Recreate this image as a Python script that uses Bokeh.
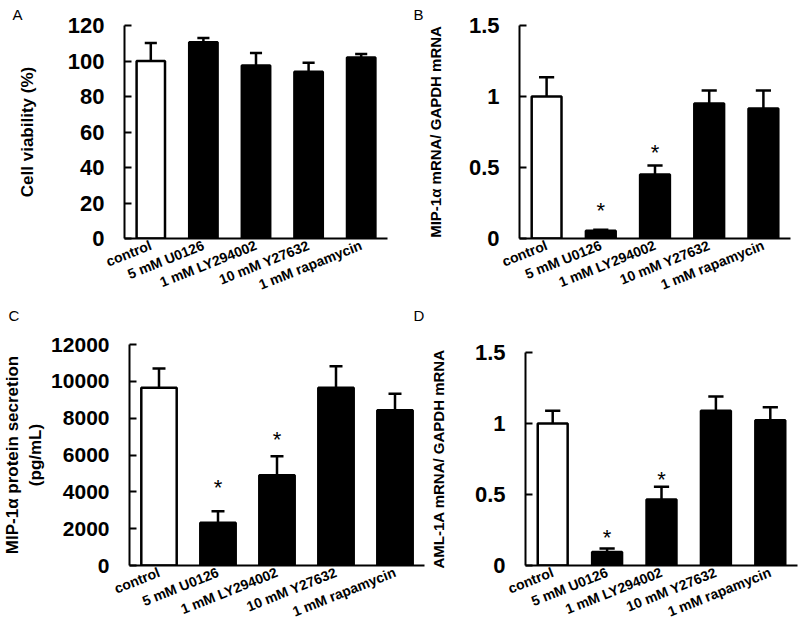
from bokeh.plotting import figure
from bokeh.models import (ColumnDataSource, FactorRange, Range1d, FixedTicker,
                          CustomJSTickFormatter, Title)
from bokeh.transform import dodge
from bokeh.layouts import row, column
from bokeh.embed import file_html
from bokeh.resources import INLINE
from bokeh.core.properties import value

# ---------------- data ----------------
categories = ["control", "5 mM U0126", "1 mM LY294002", "10 mM Y27632", "1 mM rapamycin"]
bar_colors = ["white", "black", "black", "black", "black"]

viability = [100, 110.5, 97.5, 94, 102]
viability_err = [10.2, 2.5, 7.0, 5.0, 2.0]
viability_star = [None, None, None, None, None]

mip_mrna = [1.0, 0.055, 0.45, 0.95, 0.915]
mip_mrna_err = [0.136, 0.007, 0.064, 0.093, 0.127]
mip_mrna_star = [None, 0.23, 0.64, None, None]

mip_protein = [9650, 2320, 4900, 9650, 8430]
mip_protein_err = [1050, 630, 1030, 1170, 900]
mip_protein_star = [None, 4490, 7110, None, None]

aml_mrna = [1.0, 0.095, 0.465, 1.09, 1.023]
aml_mrna_err = [0.09, 0.025, 0.09, 0.10, 0.092]
aml_mrna_star = [None, 0.23, 0.64, None, None]

ticks_a = [0, 20, 40, 60, 80, 100, 120]
ticks_b = [0, 0.5, 1, 1.5]
ticks_c = [0, 2000, 4000, 6000, 8000, 10000, 12000]
ticks_d = [0, 0.5, 1, 1.5]

FONT = "Liberation Sans"


def letter_title(text, offset, standoff):
    return Title(text=text, align="left", offset=offset, standoff=standoff,
                 text_font=FONT, text_font_style="normal", text_font_size="15px",
                 text_color="black")


def panel(vals, errs, stars, ticks, ymax, geom, bar_w, cap, tick_fs,
          ylabel, ylabel_fs, ylabel_standoff, top_letter=None, bottom_letter=None):
    bl, fw, br, bt, fh, bb = geom
    p = figure(x_range=FactorRange(factors=categories, range_padding=0, factor_padding=0),
               y_range=Range1d(0, ymax),
               frame_width=fw, frame_height=fh,
               min_border_left=bl, min_border_right=br,
               min_border_top=bt, min_border_bottom=bb,
               output_backend="svg", toolbar_location=None, tools="")
    src = ColumnDataSource(dict(x=categories, top=vals,
                                etop=[v + e for v, e in zip(vals, errs)],
                                color=bar_colors))
    p.segment(x0="x", y0="top", x1="x", y1="etop", source=src,
              line_color="black", line_width=2.5)
    p.segment(x0=dodge("x", -cap, range=p.x_range), y0="etop",
              x1=dodge("x", cap, range=p.x_range), y1="etop", source=src,
              line_color="black", line_width=2.5)
    p.vbar(x="x", top="top", bottom=0, width=bar_w, source=src,
           fill_color="color", line_color="black", line_width=2.5)

    sx = [c for c, s in zip(categories, stars) if s is not None]
    sy = [s for s in stars if s is not None]
    if sx:
        ssrc = ColumnDataSource(dict(x=sx, y=sy, t=["*"] * len(sx)))
        p.text(x="x", y="y", text="t", source=ssrc, text_font=value(FONT),
               text_font_size=value("22px"), text_align="center",
               text_baseline="middle", y_offset=5, text_color="black")

    p.xgrid.grid_line_color = None
    p.ygrid.grid_line_color = None
    p.outline_line_color = None

    if top_letter is not None:
        t, off, so = top_letter
        p.title = letter_title(t, off, so)
    else:
        p.title = None

    xa = p.xaxis[0]
    xa.major_label_orientation = 0.38
    xa.major_tick_in = 0
    xa.major_tick_out = 0
    xa.axis_line_width = 2
    xa.axis_line_color = "black"
    xa.major_label_text_font = FONT
    xa.major_label_text_font_style = "bold"
    xa.major_label_text_font_size = "14px"
    xa.major_label_text_color = "black"
    xa.major_label_standoff = 6

    if bottom_letter is not None:
        t, off, so = bottom_letter
        p.add_layout(letter_title(t, off, so), "below")

    ya = p.yaxis[0]
    ya.ticker = FixedTicker(ticks=ticks, minor_ticks=[])
    ya.formatter = CustomJSTickFormatter(code="return String(tick)")
    ya.major_tick_in = 7
    ya.major_tick_out = 0
    ya.minor_tick_in = 0
    ya.minor_tick_out = 0
    ya.axis_line_width = 2
    ya.axis_line_color = "black"
    ya.major_tick_line_width = 2
    ya.major_tick_line_color = "black"
    ya.major_label_text_font = FONT
    ya.major_label_text_font_style = "bold"
    ya.major_label_text_font_size = tick_fs
    ya.major_label_text_color = "black"
    ya.major_label_standoff = 20
    ya.axis_label = ylabel
    ya.axis_label_text_font = FONT
    ya.axis_label_text_font_style = "bold"
    ya.axis_label_text_font_size = ylabel_fs
    ya.axis_label_text_color = "black"
    ya.axis_label_standoff = ylabel_standoff
    return p


pa = panel(viability, viability_err, viability_star, ticks_a, 120,
           (124, 263, 13, 25, 213, 92), 0.54, 0.115, "22px",
           "Cell viability (%)", "17px", 28,
           top_letter=("A", -112, 5), bottom_letter=("C", -116, 2))
pb = panel(mip_mrna, mip_mrna_err, mip_mrna_star, ticks_b, 1.5,
           (119, 271, 2, 25, 213, 92), 0.55, 0.14, "22px",
           "MIP-1α mRNA/ GAPDH mRNA", "15px", 22,
           top_letter=("B", -106, 5), bottom_letter=("D", -106, 2))
pc = panel(mip_protein, mip_protein_err, mip_protein_star, ticks_c, 12000,
           (124, 295, 2, 14, 221, 66), 0.6, 0.11, "21px",
           "MIP-1α protein secretion\n(pg/mL)", "17px", 3)
pd = panel(aml_mrna, aml_mrna_err, aml_mrna_star, ticks_d, 1.5,
           (97, 272, 2, 22, 213, 66), 0.55, 0.14, "22px",
           "AML-1A mRNA/ GAPDH mRNA", "15px", 25)

layout = column(row(pa, pb), row(column(pc), column(pd)))

with open("out.html", "w") as f:
    f.write(file_html(layout, INLINE))
